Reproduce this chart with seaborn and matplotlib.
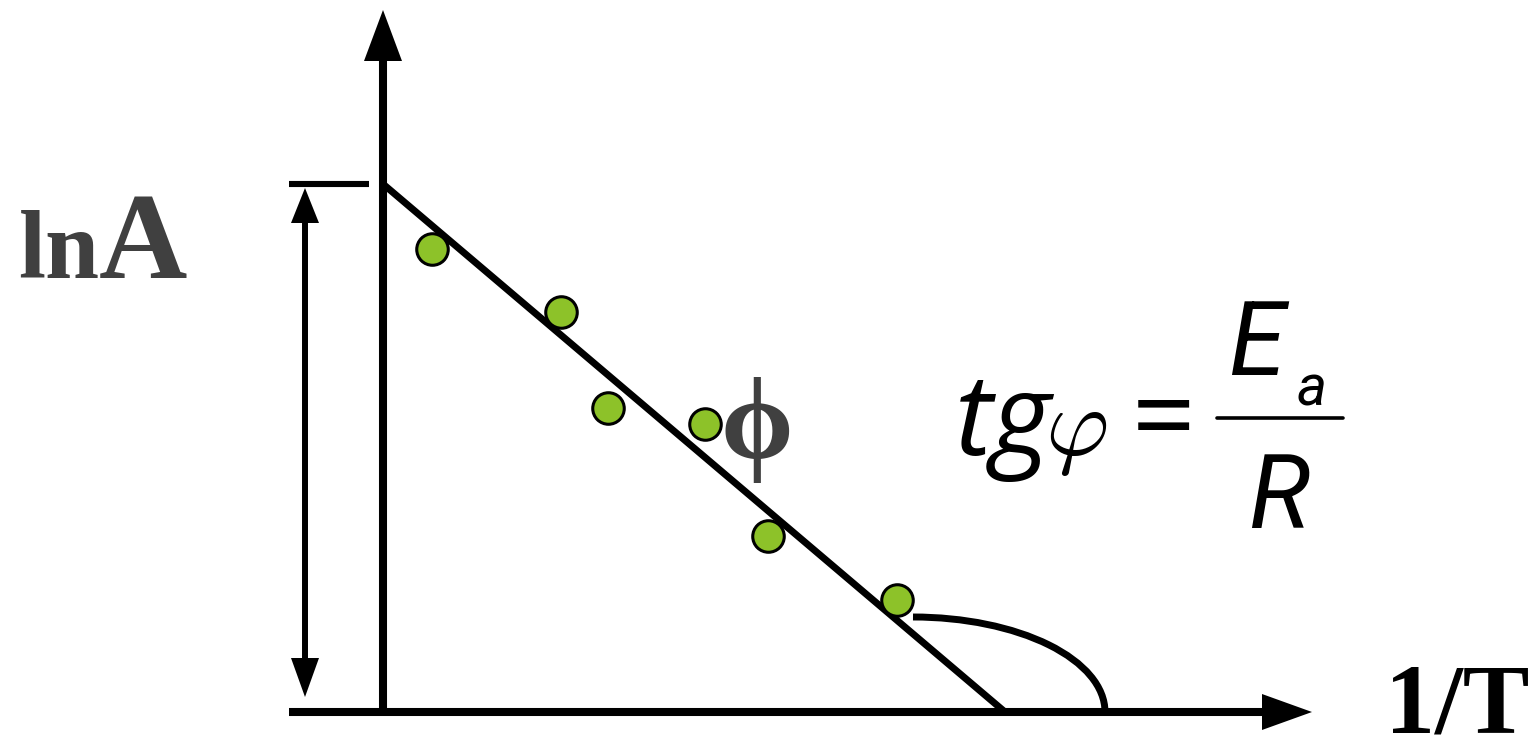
import numpy as np
import pandas as pd
import matplotlib
matplotlib.use("Agg")
import matplotlib.pyplot as plt
from matplotlib.patches import Arc
import seaborn as sns

# Arrhenius plot: ln A against 1/T (schematic units, origin at the axes corner)
inv_T = [49, 178, 225, 322, 385, 514]
ln_A = [463, 400, 304, 288, 176, 112]

# fitted straight line: value at 1/T = 0 and where it crosses the 1/T axis
fit_intercept = 528
fit_x_cross = 622

sns.set_style("white")
plt.rcParams["mathtext.fontset"] = "cm"

fig = plt.figure(figsize=(15.34, 7.45), dpi=100)
ax = fig.add_axes([0, 0, 1, 1])
ax.set_xlim(-383, 1151)
ax.set_ylim(-33, 712)
ax.axis("off")

K = "black"
LW_AX = 5.8

# coordinate axes with arrow heads
ax.plot([0, 0], [0, 655], color=K, lw=LW_AX, solid_capstyle="butt", zorder=2)
ax.fill([-19, 19, 0], [651, 651, 702], color=K, lw=0, zorder=2)
ax.plot([-94, 880], [0, 0], color=K, lw=LW_AX, solid_capstyle="butt", zorder=2)
ax.fill([879, 879, 929], [-18, 18, 0], color=K, lw=0, zorder=2)

# level of ln A at 1/T = 0 and the double arrow spanning it
ax.plot([-94, -14], [fit_intercept, fit_intercept], color=K, lw=4.4,
        solid_capstyle="butt", zorder=2)
ax.plot([-78, -78], [52, 492], color=K, lw=4.3, solid_capstyle="butt", zorder=2)
ax.fill([-92, -64, -78], [489, 489, 524], color=K, lw=0, zorder=2)
ax.fill([-92, -64, -78], [54, 54, 15], color=K, lw=0, zorder=2)

# fitted line
fit = pd.DataFrame({"x": [0, fit_x_cross], "y": [fit_intercept, 0]})
sns.lineplot(data=fit, x="x", y="y", ax=ax, color=K, lw=5.0, zorder=3)

# angle arc at the crossing
ax.add_patch(Arc((530, 0), 384, 190, theta1=0, theta2=90, color=K, lw=5.0,
                 capstyle="butt", zorder=3))

# measured points
pts = pd.DataFrame({"inv_T": inv_T, "ln_A": ln_A})
sns.scatterplot(data=pts, x="inv_T", y="ln_A", ax=ax, s=515, color="#8DC229",
                edgecolor="black", linewidth=2.2, zorder=5, legend=False)

GRAY = "#404040"
serif = ["Liberation Serif", "DejaVu Serif"]
ax.text(-365, 434, "ln", fontfamily=serif, fontweight="bold", fontsize=70,
        color=GRAY, ha="left", va="baseline")
ax.text(-196, 434, "A", fontfamily=serif, fontweight="bold", fontsize=88,
        color=GRAY, ha="right", va="baseline")
ax.text(1002, -20, "1/T", fontfamily=serif, fontweight="bold", fontsize=72,
        color=K, ha="left", va="baseline")
ax.text(374, 254, "ϕ", fontfamily=serif, fontweight="bold", fontsize=84,
        color=GRAY, ha="center", va="baseline", zorder=4)

# tg φ = E_a / R
ax.text(572, 257, "tg", fontfamily="Open Sans", fontstyle="italic", fontsize=82,
        color=K, ha="left", va="baseline")
ax.text(662, 257, r"$\varphi$", fontsize=70, color=K, ha="left", va="baseline")
ax.text(781, 257, "=", fontfamily="Open Sans", fontsize=80,
        color=K, ha="center", va="baseline")
ax.text(845, 337, "E", fontfamily="Roboto", fontstyle="italic", fontsize=74,
        color=K, ha="left", va="baseline")
ax.text(914, 307, "a", fontfamily="Roboto", fontstyle="italic", fontsize=41,
        color=K, ha="left", va="baseline")
ax.plot([834, 960], [294, 294], color=K, lw=2.6, solid_capstyle="round")
ax.text(865, 184, "R", fontfamily="Roboto", fontstyle="italic", fontsize=74,
        color=K, ha="left", va="baseline")

fig.savefig("out.png", dpi=100, facecolor="white")
